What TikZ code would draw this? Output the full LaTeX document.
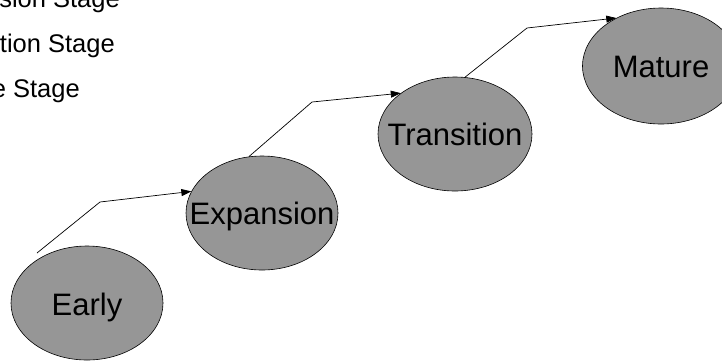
\documentclass[tikz,border=0pt]{standalone}
\usepackage{fontspec}
\setmainfont{Liberation Sans}
\usetikzlibrary{shapes.geometric,arrows.meta}
\definecolor{stagegray}{RGB}{150,150,150}
\tikzset{
  stagebox/.style={ellipse, draw=black, line width=0.6pt, fill=stagegray, inner sep=0pt,
    minimum width=152pt, minimum height=114pt},
  stagelbl/.style={inner sep=0pt, font=\fontsize{31}{37}\selectfont, text height=22pt, text depth=0pt},
  listtxt/.style={inner sep=0pt, anchor=base east, font=\fontsize{25.5}{30}\selectfont},
  flow/.style={line width=0.7pt, -{Triangle[length=10pt,width=7pt]}}
}
\begin{document}
\begin{tikzpicture}[x=1pt,y=-1pt]
\useasboundingbox (0,0) rectangle (722,360);
\clip (0,0) rectangle (722,360);
% list text (cut at the left border, as in the reference)
\node[listtxt] (l1) at (120,7) {Expansion Stage};
\node[listtxt] (l2) at (115,52) {Transition Stage};
\node[listtxt] (l3) at (80,97) {Mature Stage};
% stages
\node[stagebox] (early) at (87,303) {};
\node[stagelbl] (earlyl) at ([yshift=-1pt]early.center) {Early};
\node[stagebox] (exp) at (262,213) {};
\node[stagelbl] (expl) at (exp.center) {Expansion};
\node[stagebox, minimum width=154pt] (tr) at (455,134) {};
\node[stagelbl] (trl) at (tr.center) {Transition};
\node[stagebox, minimum width=157pt, minimum height=116pt] (mat) at (661,66) {};
\node[stagelbl] (matl) at (mat.center) {Mature};
% connectors
\coordinate (s1) at (37,253);
\coordinate (b1) at (100,202);
\coordinate (b2) at (312,102);
\coordinate (b3) at (527,28);
\draw[flow] (s1) -- (b1) -- (exp.163);
\draw[flow] (exp.103) -- (b2) -- (tr.143);
\draw[flow] (tr.80) -- (b3) -- (mat.133);
\end{tikzpicture}
\end{document}
